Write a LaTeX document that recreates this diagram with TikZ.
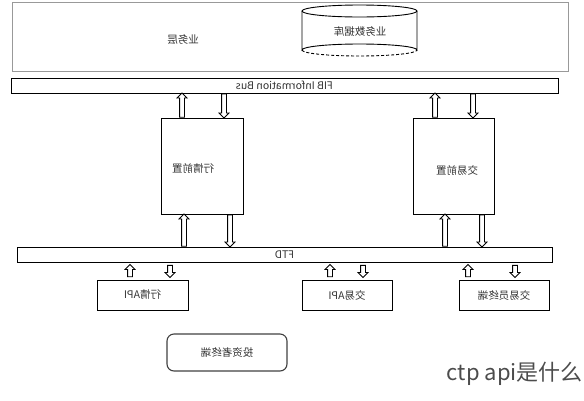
\documentclass[tikz,border=0pt]{standalone}
\usepackage{fontspec}
\setmainfont{Noto Sans CJK SC}
\usepackage{graphicx}
\usetikzlibrary{arrows.meta,shapes.arrows,calc}
\tikzstyle{layer} = [rectangle, draw, line width=0.9pt, inner sep=0pt, font=\fontsize{10.5}{12}\selectfont, text=black!80]
\tikzstyle{block} = [rectangle, draw, line width=0.9pt, inner sep=0pt, font=\fontsize{10.5}{12}\selectfont, text=black!80]
\tikzstyle{tag} = [inner sep=0pt, font=\fontsize{10.5}{12}\selectfont, text=black!80]
\tikzset{fat/.style = {
    single arrow, draw, line width=0.8pt,
    inner xsep=0pt, inner ysep=2pt,
    minimum width=9pt,
    single arrow head extend=2.5pt, single arrow head indent=0pt,
  }
}
\newcommand{\flipped}[1]{\reflectbox{#1}}
\newcommand{\busarrow}[4][0]{%
  \path let \p1=(#3), \p2=(#4), \n1={veclen(\x2-\x1,\y2-\y1)},
    \n2={atan2(\y2-\y1,\x2-\x1)} in
    node[fat, rotate=\n2, minimum height=\n1-2*#1, anchor=tail] (#2)
    at ($(\p1)!#1pt!(\p2)$) {};
}

\begin{document}
\begin{tikzpicture}[x=1pt, y=-1pt]
              \useasboundingbox (0,0) rectangle (584,400);
              % vertices
              \node[layer, draw=gray!80, minimum width=556pt, minimum height=69pt] (biz) at (290,36.5) {};
              \node[tag] (bizname) at (183,40) {\flipped{业务层}};
              \node[tag] (db) at (360,32) {\flipped{业务数据库}};
              \node[layer, minimum width=547pt, minimum height=15pt] (fib) at (284.5,85.5) {\flipped{FIB Information Bus}};
              \node[block, minimum width=82pt, minimum height=96pt] (hq) at (202,166) {};
              \node[tag] (hqname) at (193,168) {\flipped{行情前置}};
              \node[block, minimum width=81pt, minimum height=96pt] (td) at (453.5,166) {};
              \node[tag] (tdname) at (457,170) {\flipped{交易前置}};
              \node[layer, minimum width=535pt, minimum height=15pt] (ftd) at (284.5,254.5) {\flipped{FTD}};
              \node[block, minimum width=91pt, minimum height=30pt] (hqapi) at (142.5,295) {\flipped{行情API}};
              \node[block, minimum width=90pt, minimum height=30pt] (tdapi) at (347,295) {\flipped{交易API}};
              \node[block, minimum width=90pt, minimum height=30pt] (trader) at (504,295) {\flipped{交易员终端}};
              \node[block, draw=black!75, line width=1.1pt, rounded corners=7pt, minimum width=120pt, minimum height=37pt] (investor) at (227,352.5) {\flipped{投资者终端}};
              \node[text=black!70, inner sep=0pt, anchor=east, font=\fontsize{22}{26}\selectfont] (caption) at (583,374) {ctp api是什么};

              % database drum
              \draw[line width=0.9pt] (302,11) -- (302,50) arc[start angle=180, end angle=0, x radius=57.5pt, y radius=6pt] -- (417,11);
              \draw[line width=0.9pt] (359.5,11) ellipse[x radius=57.5pt, y radius=6pt];
              \draw[densely dashed, line width=0.9pt] (302,50) arc[start angle=180, end angle=360, x radius=57.5pt, y radius=6pt];

              % edges
              \busarrow{a1}{182,0 |- hq.north}{182,0 |- fib.south}
              \busarrow{a2}{224,0 |- fib.south}{224,0 |- hq.north}
              \busarrow{a3}{435,0 |- td.north}{435,0 |- fib.south}
              \busarrow{a4}{473,0 |- fib.south}{473,0 |- td.north}
              \busarrow{a5}{184,0 |- ftd.north}{184,0 |- hq.south}
              \busarrow{a6}{230,0 |- hq.south}{230,0 |- ftd.north}
              \busarrow{a7}{445,0 |- ftd.north}{445,0 |- td.south}
              \busarrow{a8}{482,0 |- td.south}{482,0 |- ftd.north}
              \busarrow[2.5]{a9}{130,0 |- hqapi.north}{130,0 |- ftd.south}
              \busarrow[2.5]{a10}{170,0 |- ftd.south}{170,0 |- hqapi.north}
              \busarrow[2.5]{a11}{330,0 |- tdapi.north}{330,0 |- ftd.south}
              \busarrow[2.5]{a12}{363,0 |- ftd.south}{363,0 |- tdapi.north}
              \busarrow[2.5]{a13}{468,0 |- trader.north}{468,0 |- ftd.south}
              \busarrow[2.5]{a14}{515,0 |- ftd.south}{515,0 |- trader.north}

            \end{tikzpicture}
\end{document}
